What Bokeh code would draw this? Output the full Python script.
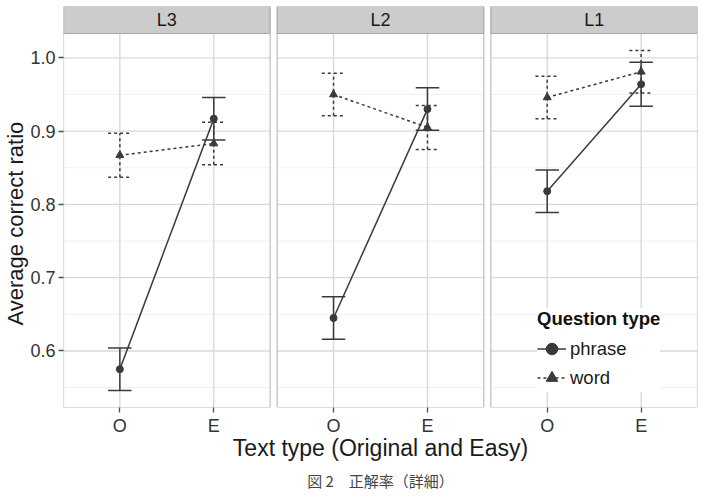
from bokeh.plotting import figure
from bokeh.models import (Range1d, FixedTicker, Legend, LegendItem, Title,
                          PrintfTickFormatter)
from bokeh.core.properties import value
from bokeh.embed import file_html
from bokeh.resources import INLINE

# ---------------- data ----------------
levels = ["L3", "L2", "L1"]
text_types = ["O", "E"]
# order: L3 O, L3 E, L2 O, L2 E, L1 O, L1 E
phrase_mean = [0.575, 0.917, 0.645, 0.930, 0.818, 0.964]
phrase_err = [0.029, 0.029, 0.029, 0.029, 0.029, 0.030]
word_mean = [0.867, 0.883, 0.950, 0.905, 0.946, 0.981]
word_err = [0.030, 0.029, 0.029, 0.030, 0.029, 0.029]
y_ticks = [0.6, 0.7, 0.8, 0.9, 1.0]
y_minor = [0.55, 0.65, 0.75, 0.85, 0.95]
x_title = "Text type (Original and Easy)"
y_title = "Average correct ratio"
legend_title = "Question type"
series_names = ["phrase", "word"]
caption = "図 2　正解率（詳細）"

# ---------------- layout constants ----------------
FONT = "Liberation Sans"
W, H = 701, 496
FL, FR, FT, PT, FB = 63, 697, 6, 33, 407
PANEL_W = 2.2
GAP = 0.075
INK = "#3a3a3a"

offsets = [i * (PANEL_W + GAP) for i in range(len(levels))]
xs = [off + j + 1 for off in offsets for j in range(len(text_types))]
x0 = 0.4
x1 = 0.4 + len(levels) * PANEL_W + (len(levels) - 1) * GAP

lows = [m - e for m, e in zip(phrase_mean + word_mean, phrase_err + word_err)]
highs = [m + e for m, e in zip(phrase_mean + word_mean, phrase_err + word_err)]
span = max(highs) - min(lows)
ymin = min(lows) - 0.05 * span
ymax = max(highs) + 0.05 * span
yppu = (FB - PT) / (ymax - ymin)
ytop = ymax + (PT - FT) / yppu

p = figure(width=W, height=H, output_backend="svg", toolbar_location=None,
           x_range=Range1d(x0, x1), y_range=Range1d(ymin, ytop),
           min_border_left=FL, min_border_right=W - FR,
           min_border_top=FT, min_border_bottom=H - FB)
p.grid.visible = False
p.outline_line_color = None
p.background_fill_color = "white"
p.border_fill_color = "white"

lefts = [off + 0.4 for off in offsets]
rights = [off + 2.6 for off in offsets]

# minor horizontal grid
mx0, mx1, my = [], [], []
for l, r in zip(lefts, rights):
    for yv in y_minor:
        mx0.append(l); mx1.append(r); my.append(yv)
p.segment(x0=mx0, y0=my, x1=mx1, y1=my, line_color="#f0f0f0", line_width=1)
# major horizontal grid
gx0, gx1, gy = [], [], []
for l, r in zip(lefts, rights):
    for yv in y_ticks:
        gx0.append(l); gx1.append(r); gy.append(yv)
p.segment(x0=gx0, y0=gy, x1=gx1, y1=gy, line_color="#d9d9d9", line_width=1.4)
# vertical grid
p.segment(x0=xs, y0=[ymin] * len(xs), x1=xs, y1=[ymax] * len(xs),
          line_color="#d9d9d9", line_width=1.4)
# panel borders
p.quad(left=lefts, right=rights, bottom=[ymin] * 3, top=[ymax] * 3,
       fill_color=None, line_color="#bdbdbd", line_width=1.2)
# strips
p.quad(left=lefts, right=rights, bottom=[ymax] * 3, top=[ytop] * 3,
       fill_color="#cccccc", line_color="#a8a8a8", line_width=1.2)
p.text(x=[(l + r) / 2 for l, r in zip(lefts, rights)], y=[(ymax + ytop) / 2] * 3,
       text=levels, text_align="center", text_baseline="middle",
       text_font=value(FONT), text_font_size="18px", text_color="#1a1a1a")

# ---------------- data marks ----------------
styles = {"phrase": dict(dash="solid", marker="circle", size=7),
          "word": dict(dash="3 3", marker="triangle", size=8)}
legend_items = []
for name, means, errs in [("phrase", phrase_mean, phrase_err),
                          ("word", word_mean, word_err)]:
    st = styles[name]
    lo = [m - e for m, e in zip(means, errs)]
    hi = [m + e for m, e in zip(means, errs)]
    p.segment(x0=xs, y0=lo, x1=xs, y1=hi, line_color=INK, line_width=1.5,
              line_dash=st["dash"])
    for cap in (lo, hi):
        p.segment(x0=[x - 0.125 for x in xs], y0=cap, x1=[x + 0.125 for x in xs],
                  y1=cap, line_color=INK, line_width=1.5, line_dash=st["dash"])
    line_r = p.multi_line(xs=[[xs[2 * i], xs[2 * i + 1]] for i in range(3)],
                          ys=[[means[2 * i], means[2 * i + 1]] for i in range(3)],
                          line_color=INK, line_width=1.5, line_dash=st["dash"])
    pts_r = p.scatter(x=xs, y=means, marker=st["marker"], size=st["size"],
                      fill_color=INK, line_color=INK)
    legend_items.append(LegendItem(label=name, renderers=[line_r, pts_r]))

legend = Legend(items=legend_items, title=legend_title, location=(474, 15),
                title_text_font=FONT, title_text_font_style="bold",
                title_text_font_size="18.5px", title_text_color="#111111",
                label_text_font=FONT, label_text_font_size="18.5px",
                label_text_color="#1a1a1a",
                glyph_width=29, glyph_height=29, label_standoff=4, spacing=0,
                padding=3, margin=0, title_standoff=4,
                border_line_color=None, background_fill_color="white",
                background_fill_alpha=1.0)
p.add_layout(legend)

# ---------------- axes ----------------
p.xaxis.ticker = FixedTicker(ticks=xs)
p.xaxis.major_label_overrides = {x: t for x, t in zip(xs, text_types * len(levels))}
p.yaxis.ticker = FixedTicker(ticks=y_ticks)
p.yaxis.formatter = PrintfTickFormatter(format="%.1f")
for ax in (p.xaxis, p.yaxis):
    ax.axis_line_color = None
    ax.major_tick_line_color = "#4d4d4d"
    ax.major_tick_line_width = 1.3
    ax.major_tick_out = 5
    ax.major_tick_in = 0
    ax.minor_tick_line_color = None
    ax.major_label_text_font = FONT
    ax.major_label_text_font_size = "18px"
    ax.major_label_text_color = "#333333"
    ax.major_label_standoff = 3
    ax.axis_label_text_font = FONT
    ax.axis_label_text_font_size = "23px"
    ax.axis_label_text_font_style = "normal"
    ax.axis_label_text_color = "#1a1a1a"
p.xaxis.axis_label = x_title
p.xaxis.axis_label_standoff = -4

# y title centred on the panels (not on panel + strip), as in the reference
p.add_layout(Title(text=y_title, align="left", offset=82, standoff=0,
                   text_font=FONT, text_font_size="22px", text_font_style="normal",
                   text_color="#1a1a1a"), "left")

p.add_layout(Title(text=caption, align="center", text_font="Noto Sans CJK JP",
                   text_font_size="15px", text_font_style="normal",
                   text_color="#444444", standoff=8), "below")

open("out.html", "w").write(file_html(p, INLINE))
